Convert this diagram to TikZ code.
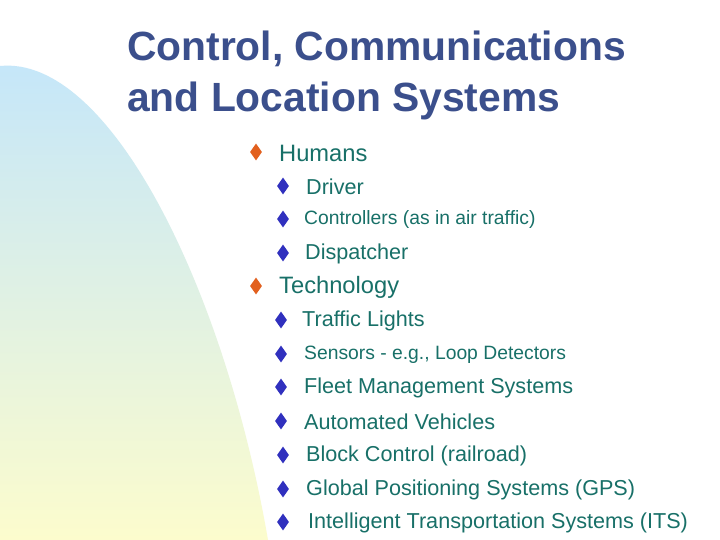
\documentclass[tikz,border=0pt]{standalone}
\usepackage{fontspec}
\setmainfont{Liberation Sans}
\usetikzlibrary{shapes.geometric}
\definecolor{titlec}{RGB}{59,79,140}
\definecolor{textc}{RGB}{24,112,104}
\definecolor{orb}{RGB}{226,96,30}
\definecolor{blb}{RGB}{48,48,190}
\definecolor{topc}{RGB}{196,230,250}
\definecolor{botc}{RGB}{252,252,205}
\tikzset{
 lvl/.style={anchor=west,text=textc,inner sep=0pt,font=\fontsize{#1}{#1}\selectfont},
 mb/.style={diamond,fill=orb,draw=none,minimum width=12pt,minimum height=17pt,inner sep=0pt},
 sb/.style={diamond,fill=blb,draw=none,minimum width=12pt,minimum height=17pt,inner sep=0pt},
 ttl/.style={anchor=west,text=titlec,inner sep=0pt,font=\fontsize{40.8}{40.8}\selectfont\bfseries}
}
\begin{document}
\begin{tikzpicture}[x=1pt,y=-1pt]
\useasboundingbox (0,0) rectangle (720,540);
\fill[white] (0,0) rectangle (720,540);
\shade[top color=topc,bottom color=botc] (0,66) .. controls (110,55) and (225,290) .. (268,540) -- (0,540) -- cycle;
\node[ttl] (t1) at (127,49) {Control, Communications};
\node[ttl] (t2) at (127,101) {and Location Systems};
\node[mb] (b1) at (256,152) {}; \node[lvl=23.7] (h) at (279,153) {Humans};
\node[sb] (b2) at (283,186) {}; \node[lvl=21.6] (d) at (306,187) {Driver};
\node[sb] (b3) at (283,219) {}; \node[lvl=19.3] (c) at (304,220) {Controllers (as in air traffic)};
\node[sb] (b4) at (283,253) {}; \node[lvl=21.6] (dp) at (305,254) {Dispatcher};
\node[mb] (b5) at (256,286) {}; \node[lvl=23.7] (te) at (279,287) {Technology};
\node[sb] (b6) at (281,320) {}; \node[lvl=21.6] (i1) at (302,321) {Traffic Lights};
\node[sb] (b7) at (281,354) {}; \node[lvl=19.3] (i2) at (304,355) {Sensors - e.g., Loop Detectors};
\node[sb] (b8) at (281,387) {}; \node[lvl=21.6] (i3) at (304,388) {Fleet Management Systems};
\node[sb] (b9) at (281,421) {}; \node[lvl=21.6] (i4) at (304,422) {Automated Vehicles};
\node[sb] (b10) at (283,455) {}; \node[lvl=21.6] (i5) at (306,456) {Block Control (railroad)};
\node[sb] (b11) at (283,489) {}; \node[lvl=21.6] (i6) at (306,490) {Global Positioning Systems (GPS)};
\node[sb] (b12) at (283,522) {}; \node[lvl=21.6] (i7) at (308,523) {Intelligent Transportation Systems (ITS)};
\end{tikzpicture}
\end{document}
